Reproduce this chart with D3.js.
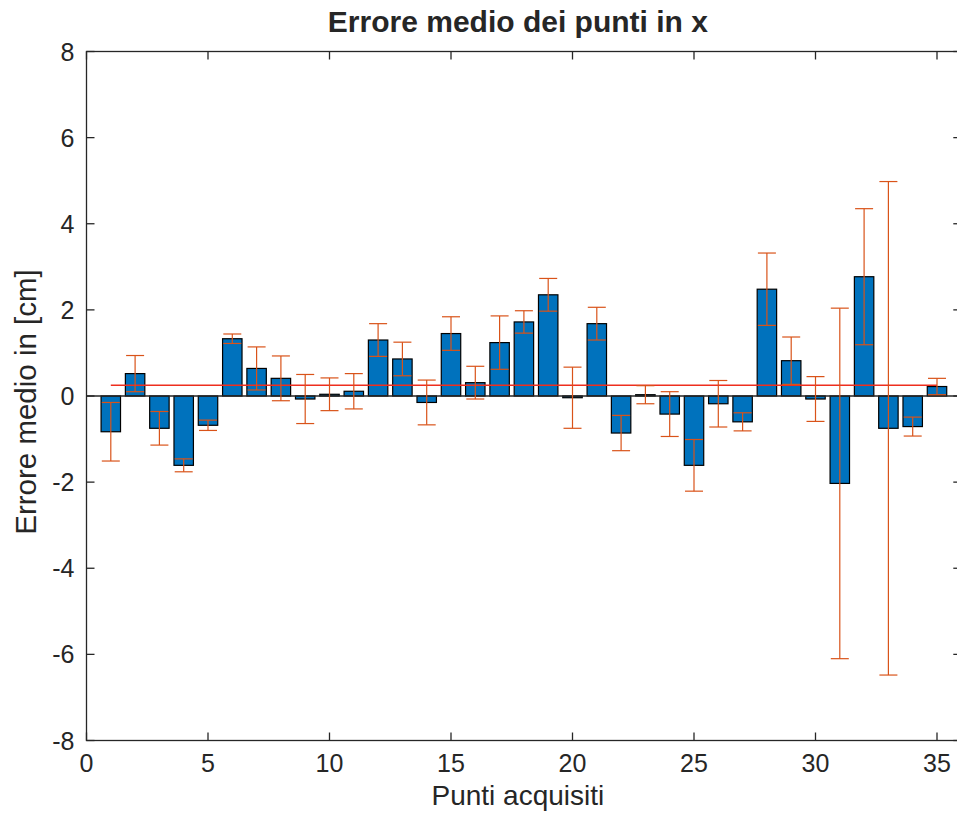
<!DOCTYPE html>
<html>
<head>
<meta charset="utf-8">
<script src="https://cdn.jsdelivr.net/npm/d3@7"></script>
<style>
  html, body { margin: 0; padding: 0; background: #ffffff; }
  svg { display: block; }
  text { font-family: "Liberation Sans", Arial, Helvetica, sans-serif; fill: #262626; }
</style>
</head>
<body>
<svg id="chart" width="957" height="825"></svg>
<script>
// ---- data ----
const points = d3.range(1, 36);
const meanError = [-0.83, 0.52, -0.75, -1.61, -0.68, 1.33, 0.64, 0.41, -0.07, 0.04,
                   0.11, 1.30, 0.86, -0.15, 1.45, 0.31, 1.24, 1.72, 2.35, -0.04,
                   1.68, -0.86, 0.03, -0.42, -1.61, -0.18, -0.60, 2.48, 0.82, -0.07,
                   -2.03, 2.77, -0.75, -0.71, 0.22];
const stdError = [0.68, 0.42, 0.39, 0.15, 0.12, 0.11, 0.50, 0.52, 0.57, 0.38,
                  0.41, 0.38, 0.39, 0.52, 0.39, 0.38, 0.62, 0.26, 0.38, 0.71,
                  0.38, 0.41, 0.21, 0.52, 0.60, 0.54, 0.21, 0.84, 0.55, 0.52,
                  4.07, 1.58, 5.73, 0.22, 0.19];
const overallMean = 0.25;
const xTicks = [0, 5, 10, 15, 20, 25, 30, 35];
const yTicks = [-8, -6, -4, -2, 0, 2, 4, 6, 8];
const titleText = "Errore medio dei punti in x";
const xLabelText = "Punti acquisiti";
const yLabelText = "Errore medio in [cm]";

// ---- layout ----
const pLeft = 86.5, pTop = 51.5, pBottom = 740.5;
const unit = (937 - 86.5) / 35;
const pRight = pLeft + 36 * unit;
const axisColor = "#262626";

const svg = d3.select("#chart");
const x = d3.scaleLinear().domain([0, 36]).range([pLeft, pRight]);
const y = d3.scaleLinear().domain([-8, 8]).range([pBottom, pTop]);
const barW = 0.8 * unit;

// bars
svg.append("g").selectAll("rect").data(points).join("rect")
  .attr("x", (d) => x(d) - barW / 2)
  .attr("width", barW)
  .attr("y", (d, i) => y(Math.max(0, meanError[i])))
  .attr("height", (d, i) => Math.abs(y(meanError[i]) - y(0)))
  .attr("fill", "#0072BD")
  .attr("stroke", "#000000")
  .attr("stroke-width", 1.2);

// baseline
svg.append("line")
  .attr("x1", x(0)).attr("x2", x(36))
  .attr("y1", y(0)).attr("y2", y(0))
  .attr("stroke", axisColor).attr("stroke-width", 1.3);

// mean line
svg.append("line")
  .attr("x1", x(1)).attr("x2", x(35))
  .attr("y1", y(overallMean)).attr("y2", y(overallMean))
  .attr("stroke", "#ee2e1e").attr("stroke-width", 1.3);

// error bars
const eb = svg.append("g").attr("stroke", "#D95319").attr("stroke-width", 1.2).attr("fill", "none");
const capHalf = 9;
points.forEach((p, i) => {
  const cx = x(p);
  const y1 = y(meanError[i] + stdError[i]);
  const y2 = y(meanError[i] - stdError[i]);
  eb.append("line").attr("x1", cx).attr("x2", cx).attr("y1", y1).attr("y2", y2);
  eb.append("line").attr("x1", cx - capHalf).attr("x2", cx + capHalf).attr("y1", y1).attr("y2", y1);
  eb.append("line").attr("x1", cx - capHalf).attr("x2", cx + capHalf).attr("y1", y2).attr("y2", y2);
});

// axes box
const tickLen = 8;
const gAx = svg.append("g").attr("stroke", axisColor).attr("stroke-width", 1.3).attr("fill", "none");
gAx.append("rect").attr("x", pLeft).attr("y", pTop).attr("width", pRight - pLeft).attr("height", pBottom - pTop);
xTicks.forEach((t) => {
  gAx.append("line").attr("x1", x(t)).attr("x2", x(t)).attr("y1", pBottom).attr("y2", pBottom - tickLen);
  gAx.append("line").attr("x1", x(t)).attr("x2", x(t)).attr("y1", pTop).attr("y2", pTop + tickLen);
});
yTicks.forEach((t) => {
  gAx.append("line").attr("x1", pLeft).attr("x2", pLeft + tickLen).attr("y1", y(t)).attr("y2", y(t));
  gAx.append("line").attr("x1", pRight).attr("x2", pRight - tickLen).attr("y1", y(t)).attr("y2", y(t));
});

// tick labels
svg.append("g").selectAll("text").data(xTicks).join("text")
  .attr("x", (d) => x(d)).attr("y", pBottom + 31)
  .attr("text-anchor", "middle").attr("font-size", 25)
  .text((d) => d);
svg.append("g").selectAll("text").data(yTicks).join("text")
  .attr("x", pLeft - 12).attr("y", (d) => y(d) + 9)
  .attr("text-anchor", "end").attr("font-size", 25)
  .text((d) => d);

// labels
svg.append("text")
  .attr("x", (pLeft + pRight) / 2 - 6).attr("y", 32)
  .attr("text-anchor", "middle").attr("font-size", 30).attr("font-weight", "bold")
  .attr("fill", "#000000")
  .text(titleText);
svg.append("text")
  .attr("x", (pLeft + pRight) / 2 - 6).attr("y", 805)
  .attr("text-anchor", "middle").attr("font-size", 28)
  .text(xLabelText);
svg.append("text")
  .attr("transform", `translate(36, 402) rotate(-90)`)
  .attr("text-anchor", "middle").attr("font-size", 29.5)
  .text(yLabelText);
</script>
</body>
</html>
